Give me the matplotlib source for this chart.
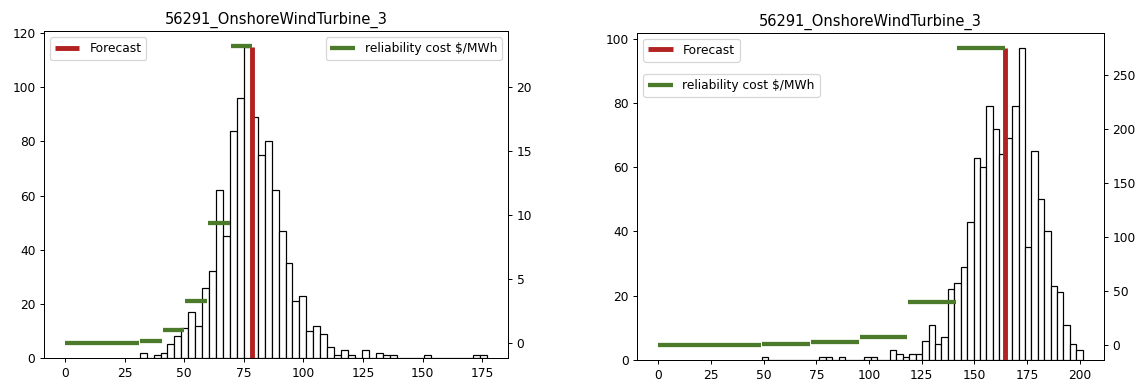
import numpy as np
import matplotlib
matplotlib.use("Agg")
import matplotlib.pyplot as plt

title = "56291_OnshoreWindTurbine_3"

# left panel: histogram of scenarios (50 bins)
left_lo, left_hi = 31.3, 177.0
left_counts = [2, 0, 1, 2, 5, 8, 11, 17, 12, 26,
               32, 62, 45, 84, 96, 115, 89, 75, 80, 62,
               47, 35, 21, 23, 10, 12, 9, 4, 1, 3,
               1, 0, 3, 0, 2, 1, 1, 0, 0, 0,
               0, 1, 0, 0, 0, 0, 0, 0, 1, 1]
left_forecast = 78.6
left_cost_start = [0, 31.5, 41.0, 50.5, 60.0, 69.5]
left_cost_end = [31.0, 40.5, 50.0, 59.5, 69.0, 78.6]
left_cost = [0.0, 0.13, 1.03, 3.27, 9.4, 23.17]

# right panel
right_lo, right_hi = 48.9, 201.4
right_counts = [1, 0, 0, 0, 0, 0, 0, 0, 0, 1,
                1, 0, 1, 0, 0, 0, 1, 1, 0, 0,
                3, 2, 1, 2, 2, 6, 11, 5, 7, 22,
                24, 29, 43, 63, 60, 79, 72, 64, 69, 79,
                97, 35, 65, 50, 40, 23, 21, 11, 5, 3]
right_forecast = 164.3
right_cost_start = [0, 49.0, 72.3, 95.5, 118.5, 141.5]
right_cost_end = [48.7, 72.0, 95.2, 118.2, 141.0, 164.3]
right_cost = [0.0, 0.8, 2.5, 7.7, 40.0, 275.5]

RED = "#b22222"
GREEN = "#4a7a2a"

dpi = 88
fig = plt.figure(figsize=(1147 / dpi, 386 / dpi), dpi=dpi)
ax_l = fig.add_axes([0.0384, 0.0725, 0.4045, 0.847])
ax_r = fig.add_axes([0.5556, 0.0674, 0.4069, 0.848])


def draw(ax, lo, hi, counts, forecast, c_start, c_end, cost):
    edges = np.linspace(lo, hi, len(counts) + 1)
    ax.hist(edges[:-1], bins=edges, weights=counts, color="white",
            edgecolor="black", linewidth=1.0)
    ax.vlines(forecast, 0, max(counts), color=RED, linewidth=4,
              label="Forecast")
    ax.set_title(title)
    ax2 = ax.twinx()
    ax2.hlines(cost, c_start, c_end, color=GREEN, linewidth=3.5,
               label="reliability cost $/MWh")
    return ax2


ax2_l = draw(ax_l, left_lo, left_hi, left_counts, left_forecast,
             left_cost_start, left_cost_end, left_cost)
ax_l.legend(loc="upper left")
ax2_l.legend(loc="upper right")

ax2_r = draw(ax_r, right_lo, right_hi, right_counts, right_forecast,
             right_cost_start, right_cost_end, right_cost)
ax_r.legend(loc="upper left")
ax2_r.legend(loc="upper left", bbox_to_anchor=(0.0, 0.892))

fig.savefig("out.png", dpi=dpi)
